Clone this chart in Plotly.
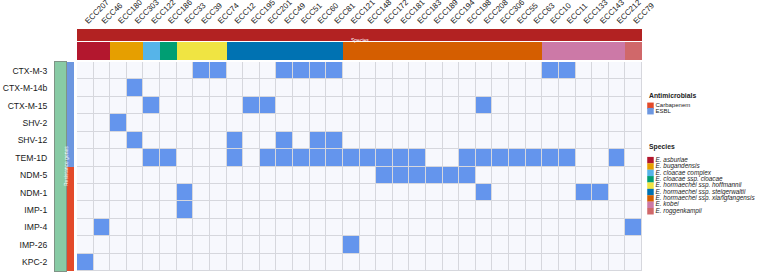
import plotly.graph_objects as go

# ---------------- data ----------------
isolates = ["ECC207", "ECC46", "ECC180", "ECC303", "ECC122", "ECC186", "ECC33", "ECC39", "ECC74",
            "ECC12", "ECC195", "ECC201", "ECC49", "ECC51", "ECC60", "ECC81",
            "ECC121", "ECC148", "ECC172", "ECC181", "ECC183", "ECC189", "ECC194", "ECC198",
            "ECC208", "ECC306", "ECC55", "ECC63",
            "ECC10", "ECC11", "ECC133", "ECC143", "ECC212", "ECC79"]

species_names = ["E. asburiae", "E. bugandensis", "E. cloacae complex", "E. cloacae ssp. cloacae",
                 "E. hormaechei ssp. hoffmannii", "E. hormaechei ssp. steigerwaltii",
                 "E. hormaechei ssp. xiangfangensis", "E. kobei", "E. roggenkampii"]
species_colors = ["#B3172E", "#E69F00", "#56B4E9", "#009E73", "#F0E442", "#0072B2",
                  "#D55E00", "#CC79A7", "#D0686A"]
species_counts = [2, 2, 1, 1, 3, 7, 12, 5, 1]   # consecutive isolates per species

genes = ["CTX-M-3", "CTX-M-14b", "CTX-M-15", "SHV-2", "SHV-12", "TEM-1D",
         "NDM-5", "NDM-1", "IMP-1", "IMP-4", "IMP-26", "KPC-2"]
gene_class = ["ESBL"] * 6 + ["Carbapenem"] * 6
class_names = ["Carbapenem", "ESBL"]
class_colors = ["#E34A2A", "#6D97E0"]

positives = {
    "CTX-M-3": ["ECC39", "ECC74", "ECC49", "ECC51", "ECC60", "ECC81", "ECC10", "ECC11"],
    "CTX-M-14b": ["ECC303"],
    "CTX-M-15": ["ECC122", "ECC195", "ECC201", "ECC208"],
    "SHV-2": ["ECC180"],
    "SHV-12": ["ECC303", "ECC12", "ECC49", "ECC60", "ECC81"],
    "TEM-1D": ["ECC122", "ECC186", "ECC12", "ECC201", "ECC49", "ECC51", "ECC60", "ECC81",
               "ECC121", "ECC148", "ECC172", "ECC181", "ECC183", "ECC198", "ECC208",
               "ECC306", "ECC55", "ECC63", "ECC10", "ECC11", "ECC212"],
    "NDM-5": ["ECC172", "ECC181", "ECC183", "ECC189", "ECC194", "ECC198"],
    "NDM-1": ["ECC33", "ECC208", "ECC133", "ECC143"],
    "IMP-1": ["ECC33"],
    "IMP-4": ["ECC46", "ECC79"],
    "IMP-26": ["ECC121"],
    "KPC-2": ["ECC207"],
}

# ---------------- derived ----------------
W, H = 760, 273
FONT = "Liberation Sans, Arial, sans-serif"

def px_x(a, b):
    return [a / W, b / W]

def px_y(top, bottom):
    return [1 - bottom / H, 1 - top / H]

def discrete_scale(colors):
    n = len(colors)
    cs = []
    for i, c in enumerate(colors):
        cs.append([i / n, c])
        cs.append([(i + 1) / n, c])
    return cs

species_idx = []
for i, c in enumerate(species_counts):
    species_idx += [i] * c

z_main = [[1 if iso in positives[g] else 0 for iso in isolates] for g in genes]
z_class = [[class_names.index(c)] for c in gene_class]

fig = go.Figure()

# grid-line layer under the main grid
fig.add_trace(go.Heatmap(
    x=isolates, y=genes, z=[[0] * len(isolates) for _ in genes], xaxis="x", yaxis="y",
    colorscale=[[0, "#D6D7DD"], [1, "#D6D7DD"]], zmin=0, zmax=1,
    showscale=False, hoverinfo="skip"))

# main grid
fig.add_trace(go.Heatmap(
    x=isolates, y=genes, z=z_main, xaxis="x", yaxis="y",
    colorscale=[[0, "#F7F8FD"], [0.5, "#F7F8FD"], [0.5, "#6495ED"], [1, "#6495ED"]],
    zmin=0, zmax=1, showscale=False, xgap=1, ygap=1, hoverinfo="skip"))

# species bar
fig.add_trace(go.Heatmap(
    x=isolates, y=["Species"], z=[species_idx], xaxis="x2", yaxis="y2",
    colorscale=discrete_scale(species_colors), zmin=-0.5, zmax=len(species_colors) - 0.5,
    showscale=False, hoverinfo="skip"))

# species banner
fig.add_trace(go.Heatmap(
    x=isolates, y=["banner"], z=[[0] * len(isolates)], xaxis="x3", yaxis="y3",
    colorscale=[[0, "#B22222"], [1, "#B22222"]], zmin=0, zmax=1,
    showscale=False, hoverinfo="skip"))

# antimicrobial class bar
fig.add_trace(go.Heatmap(
    x=["class"], y=genes, z=z_class, xaxis="x4", yaxis="y4",
    colorscale=discrete_scale(class_colors), zmin=-0.5, zmax=1.5,
    showscale=False, hoverinfo="skip"))

# resistance genes bar
fig.add_trace(go.Heatmap(
    x=["genes"], y=genes, z=[[0] for _ in genes], xaxis="x5", yaxis="y5",
    colorscale=[[0, "#88CBA5"], [1, "#88CBA5"]], zmin=0, zmax=1,
    showscale=False, hoverinfo="skip"))

# legends (swatches + text)
fig.add_trace(go.Scatter(
    x=[0] * len(class_names), y=class_names, xaxis="x6", yaxis="y6",
    mode="markers+text", text=class_names, textposition="middle right",
    textfont=dict(size=6.0, color="#222222", family=FONT),
    marker=dict(symbol="square", size=6.5, color=class_colors),
    cliponaxis=False, hoverinfo="skip", showlegend=False))

fig.add_trace(go.Scatter(
    x=[0] * len(species_names), y=species_names, xaxis="x7", yaxis="y7",
    mode="markers+text", text=["<i>" + s + "</i>" for s in species_names],
    textposition="middle right",
    textfont=dict(size=6.4, color="#222222", family=FONT),
    marker=dict(symbol="square", size=6.5, color=species_colors),
    cliponaxis=False, hoverinfo="skip", showlegend=False))

hidden = dict(showgrid=False, zeroline=False, showticklabels=False, ticks="", showline=False,
              automargin=False)

fig.update_layout(
    width=W, height=H,
    margin=dict(l=0, r=0, t=0, b=0, pad=0),
    paper_bgcolor="white",
    plot_bgcolor="white",
    font=dict(family=FONT, size=8, color="#222222"),
    showlegend=False,
    xaxis=dict(domain=px_x(77, 642), type="category", categoryarray=isolates, **hidden),
    yaxis=dict(domain=px_y(62, 271), type="category", categoryarray=genes,
               autorange="reversed", **hidden),
    xaxis2=dict(domain=px_x(77, 642), anchor="y2", type="category", categoryarray=isolates, **hidden),
    yaxis2=dict(domain=px_y(42, 60), anchor="x2", **hidden),
    xaxis3=dict(domain=px_x(77, 642), anchor="y3", type="category", categoryarray=isolates,
                side="top", showticklabels=True, tickangle=-45, ticks="", showgrid=False,
                zeroline=False, ticklabelstandoff=1, automargin=False,
                tickfont=dict(size=8.0, color="#1A1A1A", family=FONT)),
    yaxis3=dict(domain=px_y(29, 41), anchor="x3", **hidden),
    xaxis4=dict(domain=px_x(67, 74), anchor="y4", **hidden),
    yaxis4=dict(domain=px_y(62, 271), anchor="x4", type="category", categoryarray=genes,
                autorange="reversed", **hidden),
    xaxis5=dict(domain=px_x(55, 66), anchor="y5", showgrid=False, zeroline=False,
                showticklabels=False, ticks="", showline=True, mirror=True,
                linecolor="#7F9486", linewidth=1, automargin=False),
    yaxis5=dict(domain=px_y(62, 271), anchor="x5", type="category", categoryarray=genes,
                autorange="reversed", showgrid=False, zeroline=False, ticks="",
                showline=True, mirror=True, linecolor="#7F9486", linewidth=1,
                automargin=False,
                ticklabelstandoff=5, tickfont=dict(size=8.6, color="#1A1A1A", family=FONT)),
    xaxis6=dict(domain=px_x(645, 760), anchor="y6", range=[-0.5, 10], **hidden),
    yaxis6=dict(domain=px_y(101, 116), anchor="x6", type="category",
                categoryarray=class_names, autorange="reversed", **hidden),
    xaxis7=dict(domain=px_x(645, 760), anchor="y7", range=[-0.5, 10], **hidden),
    yaxis7=dict(domain=px_y(152.8, 218.6), anchor="x7", type="category",
                categoryarray=species_names, autorange="reversed", **hidden),
    annotations=[
        dict(text="Species", x=(77 + 642) / 2 / W, y=1 - 35 / H, xref="paper", yref="paper",
             showarrow=False, font=dict(size=5, color="white", family=FONT)),
        dict(text="Resistance genes", x=60.5 / W, y=1 - 166.5 / H, xref="paper", yref="paper",
             textangle=-90, showarrow=False, font=dict(size=5, color="white", family=FONT)),
        dict(text="<b>Antimicrobials</b>", x=647 / W, y=1 - 95.5 / H, xref="paper", yref="paper",
             xanchor="left", yanchor="middle", showarrow=False,
             font=dict(size=6.8, color="#222222", family=FONT)),
        dict(text="<b>Species</b>", x=647 / W, y=1 - 147 / H, xref="paper", yref="paper",
             xanchor="left", yanchor="middle", showarrow=False,
             font=dict(size=6.8, color="#222222", family=FONT)),
    ],
)

fig.write_html("out.html", config={"displayModeBar": False},
               post_script="document.body.style.margin='0';document.body.style.overflow='hidden';")
